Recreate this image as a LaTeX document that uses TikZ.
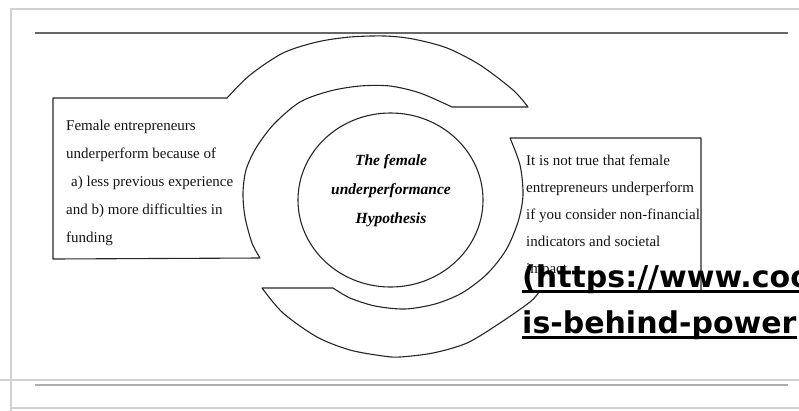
\documentclass[tikz,border=0pt]{standalone}
\usepackage{fontspec}
\setmainfont{Liberation Serif}
\newfontfamily\urlfont{DejaVu Sans}
\usetikzlibrary{positioning}
\tikzset{>=stealth}
\tikzset{
  band/.style={draw=black!85,line width=1.1pt,line join=round},
  boxtext/.style={anchor=north west,align=left,inner sep=0pt,text=black!92},
  hyptext/.style={anchor=north,align=center,inner sep=0pt,text=black,
    font=\bfseries\itshape\fontsize{15.5}{29}\selectfont},
  urltext/.style={anchor=base west,inner sep=0pt,
    font=\urlfont\bfseries\fontsize{30}{36}\selectfont}
}

\begin{document}
\begin{tikzpicture}[x=1pt,y=-1pt]
\useasboundingbox (0,0) rectangle (799,410);
\clip (0,0) rectangle (799,410);
% Draw page frame and rules
\draw[black!18,line width=2pt] (11,420) -- (11,9) -- (810,9);
\draw[black!18,line width=2.5pt] (0,380) -- (810,380);
\draw[black!18,line width=2pt] (11,408) -- (810,408);
\draw[black!60,line width=1.2pt] (35,33) -- (788,33);
\draw[black!32,line width=1.5pt] (35,385) -- (788,385);

% Draw upper band with left box
\draw[band] (53,98) coordinate (lt) -- (227,98) coordinate (la)
  -- plot[smooth] coordinates {(227,98) (250,75) (283,53) (317,42) (350,37) (385,36) (413,39) (447,48) (480,65) (513,90) (528,107)}
  coordinate (ua) -- (452,107) coordinate (ub)
  -- plot[smooth] coordinates {(452,107) (420,93) (390,86) (360,86) (330,91) (300,102) (274,124) (256,148) (246,170) (243,193) (245,217) (252,243) (260,258)}
  coordinate (lb) -- (53,259) coordinate (lbl) -- cycle;

% Draw lower band with right box
\draw[band] (510,138) coordinate (rt) -- (701,138) coordinate (rtr) -- (701,292) coordinate (rbr) -- (539,292) coordinate (ra)
  -- plot[smooth] coordinates {(539,292) (530,302) (500,323) (467,343) (433,353) (400,357) (383,356) (350,350) (317,337) (283,313) (262,288)}
  coordinate (da) -- (333,288) coordinate (db)
  -- plot[smooth] coordinates {(333,288) (350,298) (375,306) (405,309) (435,304) (462,293) (487,274) (506,250) (518,222) (523,195) (520,165) (510,138)}
  -- cycle;

% Draw inner circle
\draw[band] (390.5,200) coordinate (o) ellipse[x radius=92.5,y radius=87];

% Texts
\node[boxtext,font=\fontsize{15}{28}\selectfont] (causes) at (66,119.8)
  {Female entrepreneurs\\underperform because of\\\hspace*{5pt}a) less previous experience\\and b) more difficulties in\\funding};
\node[boxtext,font=\fontsize{15}{27}\selectfont] (objection) at (526,154.8)
  {It is not true that female\\entrepreneurs underperform\\if you consider non-financial\\indicators and societal\\impact};
\node[hyptext] (hyp) at (391,154.4) {The female\\underperformance\\Hypothesis};

% Link text
\node[urltext] (url1) at (522,287) {(https://www.coo};
\node[urltext] (url2) at (522,333) {is-behind-power};
\draw[line width=2.7pt] ([yshift=-4.5pt]url1.base west) -- ([yshift=-4.5pt]url1.base east);
\draw[line width=2.7pt] ([yshift=-4.5pt]url2.base west) -- ([yshift=-4.5pt]url2.base east);
\end{tikzpicture}
\end{document}
